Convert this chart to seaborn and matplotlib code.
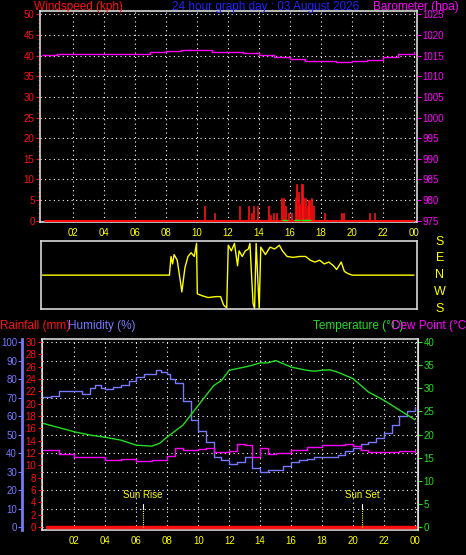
import numpy as np
import pandas as pd
import seaborn as sns
import matplotlib
matplotlib.use("Agg")
import matplotlib.pyplot as plt

# ---- data ----
baro_hours = [0, 1, 2, 3, 4, 5, 6, 7, 8, 9, 10, 11, 12, 13, 14, 15, 16, 17, 18, 19, 20, 21, 22, 23, 24]
baro_hpa = [1015.2, 1015.3, 1015.3, 1015.3, 1015.3, 1015.3, 1015.4, 1015.8, 1016.1, 1016.4, 1016.3,
            1016.0, 1015.8, 1015.6, 1015.2, 1014.6, 1014.1, 1013.8, 1013.6, 1013.5, 1013.7, 1014.0,
            1014.6, 1015.3, 1015.8]

wind_hours = [10.45, 11.1, 12.7, 13.3, 13.5, 13.6, 13.9, 14.6, 14.7, 14.9, 15.1, 15.4, 15.55, 15.7,
              15.85, 16.1, 16.3, 16.4, 16.5, 16.6, 16.75, 16.85, 16.95, 17.1, 17.2, 17.35, 17.5,
              18.2, 19.3, 19.45, 21.1, 21.4]
wind_kph = [3.5, 1.8, 3.5, 3.5, 2, 3.5, 3.5, 3.5, 1.5, 2, 2, 5.5, 5.5, 3.5, 2, 2, 5.5, 9, 7, 4,
            9, 5.5, 5.5, 3.5, 5, 5.5, 3.5, 2, 2, 2, 2, 2]
gust_hours = [15.7, 16.45, 16.9, 17.2]

dir_hours = [0, 8.2, 8.3, 8.4, 8.5, 8.7, 8.9, 9.0, 9.2, 9.4, 9.6, 9.8, 9.95, 10.0, 10.3, 10.7, 11.2,
             11.5, 11.7, 11.9, 12.0, 12.2, 12.4, 12.6, 12.7, 12.9, 13.1, 13.3, 13.4, 13.6, 13.7,
             13.8, 14.0, 14.1, 14.4, 14.7, 15.0, 15.3, 15.5, 15.8, 16.2, 16.6, 17.0, 17.3, 17.6,
             17.9, 18.2, 18.5, 18.8, 19.0, 19.3, 19.5, 19.7, 20.0, 24]
dir_deg = [0, 0, 100, 60, 110, 80, -30, -90, 40, 100, 120, 100, 170, -100, -110, -120, -115,
           -115, -160, -175, 160, 130, 170, 50, 130, 100, 130, 140, 170, -150, -180, 170, -180,
           150, 110, 150, 140, 160, 130, 100, 95, 100, 100, 80, 70, 80, 60, 70, 50, 30, 70, 20,
           10, 0, 0]

hum_hours = [0, 0.5, 1, 1.5, 2, 2.5, 3, 3.3, 3.7, 4, 4.5, 5, 5.5, 6, 6.5, 7, 7.3, 7.6, 8, 8.2, 8.5,
             9, 9.5, 10, 10.5, 11, 11.5, 12, 12.5, 13, 13.5, 14, 14.5, 15, 15.5, 16, 16.5, 17,
             17.5, 18, 18.5, 19, 19.5, 20, 20.5, 21, 21.5, 22, 22.5, 23, 23.5, 24]
hum_pct = [70.5, 71, 73.5, 73.5, 73.5, 72, 75, 77, 75, 74.5, 75.5, 77, 79, 81, 83, 83, 85, 84, 83,
           80, 78, 68, 58, 52, 46, 38, 36, 34, 35, 38, 32, 30, 31, 31, 33, 35, 36, 37, 38, 38,
           38, 39, 41, 43, 45, 46, 48, 51, 55, 60, 63, 65]

temp_hours = [0, 1, 2, 3, 4, 5, 6, 7, 7.5, 8, 9, 10, 11, 11.5, 12, 13, 13.5, 14, 14.5, 15, 15.5,
              16, 17, 17.5, 18, 18.5, 19, 20, 21, 22, 23, 24]
temp_c = [22.4, 21.5, 20.6, 19.9, 19.4, 18.8, 17.7, 17.5, 18.1, 19.5, 22, 26.3, 30.6, 31.7, 33.9,
          34.6, 35, 35.5, 35.5, 36, 35.3, 34.6, 33.9, 33.7, 33.9, 34, 33.5, 32.1, 29.2, 27.4,
          25.3, 23.2]

dew_hours = [0, 1, 2, 3, 4, 5, 6, 7, 8, 8.5, 9, 10, 10.5, 11, 12, 12.5, 13, 13.5, 14, 14.5, 15,
             16, 17, 18, 19, 19.5, 20, 20.5, 21, 22, 23, 24]
dew_c = [16.6, 15.9, 15.2, 15.2, 14.5, 14.7, 14.3, 14.5, 15.3, 17, 16.6, 16.8, 17, 16.3, 16.5,
         18, 17.7, 15.2, 17, 15.8, 16, 16.6, 17.3, 17.7, 17.8, 18, 17.5, 16.6, 16.3, 16.3,
         16.5, 16]

rain_hours = [0.2, 24]
rain_mm = [0, 0]

sun_rise, sun_set = 6.4, 20.6
hour_ticks = list(range(2, 25, 2))
hour_labels = ["%02d" % (h % 24) for h in hour_ticks]

# ---- styling ----
sns.set_style("dark", {"axes.facecolor": "black", "figure.facecolor": "black"})
plt.rcParams["font.family"] = ["Liberation Sans Narrow", "Liberation Sans", "DejaVu Sans"]
plt.rcParams["font.size"] = 7

FRAME = "#d8d8d8"
RED = "#ff1010"
MAG = "#ff00ff"
BLUE = "#7777ff"
GREEN = "#22dd22"
YEL = "#ffff00"
TITLE = 8.5

fig = plt.figure(figsize=(4.66, 5.55), dpi=100)


def frame(ax):
    for s in ax.spines.values():
        s.set_color(FRAME)
        s.set_linewidth(1.2)
    ax.set_xlim(-0.1, 24.2)
    ax.set_xticks(hour_ticks)
    ax.grid(True, color="white", linestyle=(0, (1, 3)), linewidth=0.8)
    ax.set_xlabel("")
    ax.set_ylabel("")


# top panel: wind speed + barometer
ax1 = fig.add_axes([0.086, 0.60, 0.809, 0.380])
frame(ax1)
ax1.bar(wind_hours, wind_kph, width=0.07, color=RED, edgecolor=RED, linewidth=0.5,
        align="edge", zorder=3)
ax1.plot([0.2, 24], [0, 0], color=RED, lw=1.5, zorder=3)
ax1.plot(gust_hours, [0.1] * len(gust_hours), "_", color="#00ff00", ms=5, zorder=4)
ax1.set_ylim(-0.3, 50.8)
ax1.set_yticks(range(0, 51, 5))
ax1.tick_params(axis="y", colors=RED, length=3, pad=1)
ax1.tick_params(axis="x", colors=YEL, length=3, pad=1)
ax1.set_xticklabels(hour_labels)
ax1.set_yticks(np.arange(0, 51, 1), minor=True)
ax1.tick_params(axis="y", which="minor", colors=RED, length=1.5)
ax1b = ax1.twinx()
sns.lineplot(x=baro_hours, y=baro_hpa, ax=ax1b, color=MAG, lw=1, drawstyle="steps-post")
ax1b.set_ylim(974.7, 1025.8)
ax1b.set_yticks(range(975, 1026, 5))
ax1b.tick_params(axis="y", colors=MAG, length=3, pad=1)
ax1b.grid(False)
ax1b.set_ylabel("")
for s in ax1b.spines.values():
    s.set_visible(False)
fig.text(0.073, 0.998, "Windspeed (kph)", color=RED, fontsize=TITLE, va="top")
fig.text(0.37, 0.998, "24 hour graph day : 03 August 2026", color="#2222ff", fontsize=TITLE, va="top")
fig.text(0.80, 0.998, "Barometer (hpa)", color=MAG, fontsize=TITLE, va="top")

# middle panel: wind direction
ax2 = fig.add_axes([0.088, 0.443, 0.807, 0.1225])
frame(ax2)
ax2.grid(False)
sns.lineplot(x=dir_hours, y=dir_deg, ax=ax2, color=YEL, lw=1)
ax2.set_ylim(-182, 182)
ax2.set_yticks([])
ax2.set_xticks([])
for lab, v in zip(["S", "E", "N", "W", "S"], [180, 90, 0, -90, -180]):
    ax2.text(1.06, (v + 182) / 364, lab, transform=ax2.transAxes, color=YEL,
             fontsize=9, ha="center", va="center")
ax2.set_xlabel("")
ax2.set_ylabel("")

# bottom panel: humidity / rain / temperature / dew point
ax3 = fig.add_axes([0.090, 0.045, 0.807, 0.344])
frame(ax3)
hum_lim = (-1.6, 101.6)
ax3.set_ylim(*hum_lim)
ax3.set_yticks(range(0, 101, 10))
ax3.set_yticklabels([])
ax3.tick_params(axis="y", length=0)
ax3.tick_params(axis="x", colors=YEL, length=3, pad=1)
ax3.set_xticklabels(hour_labels)

# humidity axis (far left)
axh = ax3.twinx()
axh.yaxis.tick_left()
axh.spines["left"].set_position(("outward", 14))
axh.spines["left"].set_color(BLUE)
axh.spines["left"].set_linewidth(2)
for k in ["right", "top", "bottom"]:
    axh.spines[k].set_visible(False)
sns.lineplot(x=hum_hours, y=hum_pct, ax=axh, color=BLUE, lw=1, drawstyle="steps-post")
axh.set_ylim(*hum_lim)
axh.set_yticks(range(0, 101, 10))
axh.tick_params(axis="y", colors=BLUE, length=3, pad=1)
axh.grid(False)
axh.set_ylabel("")

# rainfall axis (left frame)
axr = ax3.twinx()
axr.yaxis.tick_left()
for k in ["right", "top", "bottom"]:
    axr.spines[k].set_visible(False)
axr.spines["left"].set_color(FRAME)
axr.set_ylim(hum_lim[0] * 0.3, hum_lim[1] * 0.3)
axr.set_yticks(range(0, 31, 2))
axr.set_yticks(np.arange(0, 30.1, 1), minor=True)
axr.tick_params(axis="y", colors=RED, length=3, pad=1)
axr.tick_params(axis="y", which="minor", colors=RED, length=1.5)
sns.lineplot(x=rain_hours, y=rain_mm, ax=axr, color=RED, lw=2.5)
axr.grid(False)
axr.set_ylabel("")

# temperature axis (right)
axt = ax3.twinx()
for k in ["left", "top", "bottom"]:
    axt.spines[k].set_visible(False)
axt.spines["right"].set_color(FRAME)
axt.set_ylim(hum_lim[0] * 0.4, hum_lim[1] * 0.4)
axt.set_yticks(range(0, 41, 5))
axt.tick_params(axis="y", colors=GREEN, length=3, pad=1)
sns.lineplot(x=temp_hours, y=temp_c, ax=axt, color=GREEN, lw=1)
sns.lineplot(x=dew_hours, y=dew_c, ax=axt, color=MAG, lw=1, drawstyle="steps-post")
for t, lab in [(sun_rise, "Sun Rise"), (sun_set, "Sun Set")]:
    axt.plot([t, t], [0, 4], color=YEL, lw=0.8, linestyle=(0, (1, 1)))
    axt.plot([t, t], [4, 5], color="white", lw=0.8)
    axt.text(t, 6.3, lab, color=YEL, fontsize=7, ha="center")
axt.grid(False)
axt.set_ylabel("")

fig.text(0.0, 0.412, "Rainfall (mm)", color=RED, fontsize=TITLE, va="center")
fig.text(0.145, 0.412, "Humidity (%)", color=BLUE, fontsize=TITLE, va="center")
fig.text(0.672, 0.412, "Temperature (°C)", color=GREEN, fontsize=TITLE, va="center")
fig.text(0.842, 0.412, "Dew Point (°C)", color=MAG, fontsize=TITLE, va="center")

fig.savefig("out.png", dpi=100, facecolor="black")
